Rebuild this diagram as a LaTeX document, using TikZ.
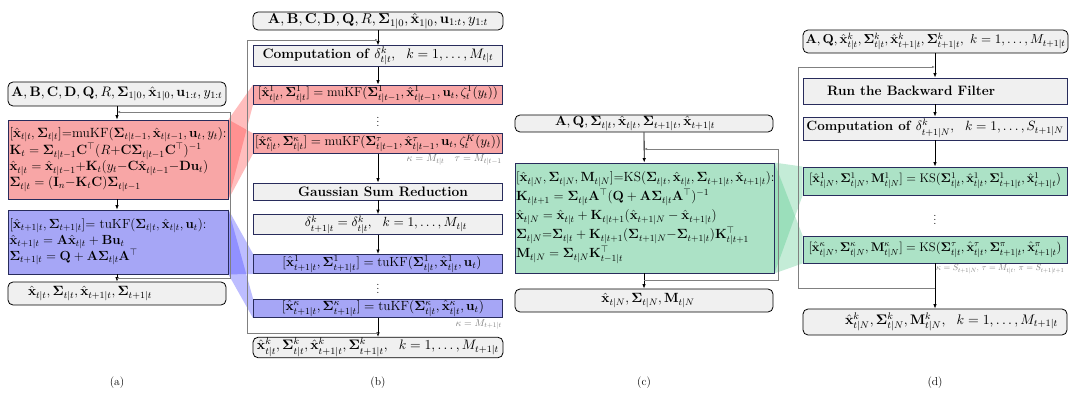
\RequirePackage{fix-cm}
\documentclass[tikz,border=0pt]{standalone}
\usepackage{graphicx}
\usepackage{amsmath,amssymb,bm}
\usetikzlibrary{arrows.meta,backgrounds}

\definecolor{boxline}{RGB}{40,44,92}
\definecolor{redbox}{RGB}{248,166,166}
\definecolor{bluebox}{RGB}{166,166,246}
\definecolor{greenbox}{RGB}{172,226,198}
\definecolor{greenfan}{RGB}{70,195,130}

\newcommand{\xh}{\hat{\mathbf{x}}}
\newcommand{\Sg}{\boldsymbol{\Sigma}}
\newcommand{\fitto}[2]{\resizebox{#1}{!}{#2}}

\begin{document}
\begin{tikzpicture}[
    x=1pt, y=-1pt,
    font=\fontsize{11.5}{13.5}\selectfont,
    fs/.style args = {#1/#2}{font=\fontsize{#1}{#2}\selectfont},
    io/.style   = {draw, rounded corners=5pt, fill=gray!12, line width=0.8pt, inner sep=1pt},
    blk/.style  = {draw=boxline, fill=gray!12, line width=0.8pt, inner sep=1pt},
    mu/.style   = {blk, fill=redbox},
    tu/.style   = {blk, fill=bluebox},
    ks/.style   = {blk, fill=greenbox},
    flow/.style = {-{Latex[length=4.5pt,width=3.5pt]}, line width=0.8pt},
    back/.style = {gray, line width=0.8pt, -{Latex[length=3pt,width=2.5pt]}},
    note/.style = {gray, inner sep=1pt},
    fan/.style  = {fill opacity=0.32},
  ]
  \useasboundingbox (0,0) rectangle (1079,398);

  % (a) Kalman filter
  \node[io, minimum width=218pt, minimum height=24pt] (ina) at (117,94)
    {\fitto{211pt}{$\mathbf{A},\mathbf{B},\mathbf{C},\mathbf{D},\mathbf{Q},R,\Sg_{1|0},\xh_{1|0},\mathbf{u}_{1:t},y_{1:t}$}};
  \node[mu, fs=13.4/16, minimum width=220pt, minimum height=79pt, text width=217pt, align=left] (mua) at (118,159.5)
    {$[\xh_{t|t},\Sg_{t|t}]$=muKF$(\Sg_{t|t-1},\xh_{t|t-1},\mathbf{u}_t,y_t)$:\\
     $\mathbf{K}_t=\Sg_{t|t-1}\mathbf{C}^{\top}(R{+}\mathbf{C}\Sg_{t|t-1}\mathbf{C}^{\top})^{-1}$\\
     $\xh_{t|t}=\xh_{t|t-1}{+}\mathbf{K}_t(y_t{-}\mathbf{C}\xh_{t|t-1}{-}\mathbf{D}\mathbf{u}_t)$\\
     $\Sg_{t|t}=(\mathbf{I}_n{-}\mathbf{K}_t\mathbf{C})\Sg_{t|t-1}$};
  \node[tu, fs=13.2/16, minimum width=220pt, minimum height=64pt, text width=217pt, align=left] (tua) at (118,242)
    {$[\xh_{t+1|t},\Sg_{t+1|t}]$= tuKF$(\Sg_{t|t},\xh_{t|t},\mathbf{u}_t)$:\\
     $\xh_{t+1|t}=\mathbf{A}\xh_{t|t}+\mathbf{B}\mathbf{u}_t$\\
     $\Sg_{t+1|t}=\mathbf{Q}+\mathbf{A}\Sg_{t|t}\mathbf{A}^{\top}$};
  \node[io, minimum width=218pt, minimum height=23pt] (outa) at (117,293.5)
    {\makebox[178pt][l]{\fitto{124pt}{$\xh_{t|t},\Sg_{t|t},\xh_{t+1|t},\Sg_{t+1|t}$}}};
  \draw[flow] (ina) -- (ina |- mua.north);
  \draw[flow] (mua.south -| ina) -- (tua.north -| ina);
  \draw[flow] (tua.south -| ina) -- (outa);
  \coordinate (la0) at (117,278);
  \coordinate (la1) at (117,112);
  \draw[back] (la0) -- ++(113,0) |- (la1);

  % (b) Gaussian sum filter
  \node[io, minimum width=250pt, minimum height=18pt] (inb) at (378,21)
    {\fitto{220pt}{$\mathbf{A},\mathbf{B},\mathbf{C},\mathbf{D},\mathbf{Q},R,\Sg_{1|0},\xh_{1|0},\mathbf{u}_{1:t},y_{1:t}$}};
  \node[blk, minimum width=249pt, minimum height=16pt] (compb) at (378,56)
    {\fitto{231pt}{\textbf{Computation of} $\delta^k_{t|t},~~k=1,\dots,M_{t|t}$}};
  \node[mu, minimum width=249pt, minimum height=19pt] (mub1) at (378,94.5)
    {\fitto{240pt}{$[\xh^1_{t|t},\Sg^1_{t|t}]=\text{muKF}(\Sg^1_{t|t-1},\xh^1_{t|t-1},\mathbf{u}_t,\zeta^1_t(y_t))$}};
  \node (vdb1) at (378,119) {$\vdots$};
  \node[mu, minimum width=249pt, minimum height=19pt] (mubk) at (378,143.5)
    {\fitto{246pt}{$[\xh^\kappa_{t|t},\Sg^\kappa_{t|t}]=\text{muKF}(\Sg^\tau_{t|t-1},\xh^\tau_{t|t-1},\mathbf{u}_t,\zeta^K_t(y_t))$}};
  \node[note, anchor=north east] (nb1) at (mubk.south east)
    {\fitto{95pt}{$\kappa=M_{t|t}\quad\tau=M_{t|t-1}$}};
  \node[blk, minimum width=249pt, minimum height=17pt] (gsr) at (378,191.5)
    {\makebox[180pt][r]{\fitto{170pt}{\textbf{Gaussian Sum Reduction}}}};
  \node[blk, minimum width=249pt, minimum height=17pt] (delb) at (378,224.5)
    {\makebox[178pt][r]{\fitto{162pt}{$\delta^k_{t+1|t}=\delta^k_{t|t},~~k=1,\dots,M_{t|t}$}}};
  \node[tu, minimum width=249pt, minimum height=18pt] (tub1) at (378,264)
    {\makebox[207pt][r]{\fitto{199pt}{$[\xh^1_{t+1|t},\Sg^1_{t+1|t}]=\text{tuKF}(\Sg^1_{t|t},\xh^1_{t|t},\mathbf{u}_t)$}}};
  \node (vdb2) at (378,286) {$\vdots$};
  \node[tu, minimum width=249pt, minimum height=17pt] (tubk) at (378,308.5)
    {\makebox[212pt][r]{\fitto{202pt}{$[\xh^\kappa_{t+1|t},\Sg^\kappa_{t+1|t}]=\text{tuKF}(\Sg^\kappa_{t|t},\xh^\kappa_{t|t},\mathbf{u}_t)$}}};
  \node[note, anchor=north east] (nb2) at (tubk.south east) {\fitto{46pt}{$\kappa=M_{t+1|t}$}};
  \node[io, minimum width=250pt, minimum height=19pt] (outb) at (378,347.5)
    {\fitto{242pt}{$\xh^k_{t|t},\Sg^k_{t|t},\xh^k_{t+1|t},\Sg^k_{t+1|t},~~k=1,\dots,M_{t+1|t}$}};
  \draw[flow] (inb) -- (compb);
  \draw[flow] (compb) -- (mub1);
  \draw[flow] (mubk) -- (gsr);
  \draw[flow] (gsr) -- (delb);
  \draw[flow] (delb) -- (tub1);
  \draw[flow] (tubk) -- (outb);
  \coordinate (lb0) at (378,333);
  \coordinate (lb1) at (378,40);
  \draw[back] (lb0) -- ++(-131,0) |- (lb1);

  % (c) Kalman smoother
  \node[io, minimum width=258pt, minimum height=17pt] (inc) at (644,123.5)
    {\makebox[178pt][l]{\fitto{160pt}{$\mathbf{A},\mathbf{Q},\Sg_{t|t},\xh_{t|t},\Sg_{t+1|t},\xh_{t+1|t}$}}};
  \node[ks, fs=13.3/19, minimum width=259pt, minimum height=110pt, text width=257pt, align=left] (ksc) at (644.5,218)
    {$[\xh_{t|N},\Sg_{t|N},\mathbf{M}_{t|N}]$=KS$(\Sg_{t|t},\xh_{t|t},\Sg_{t+1|t},\xh_{t+1|t})$:\\
     $\mathbf{K}_{t|t+1}=\Sg_{t|t}\mathbf{A}^{\top}(\mathbf{Q}+\mathbf{A}\Sg_{t|t}\mathbf{A}^{\top})^{-1}$\\
     $\xh_{t|N}=\xh_{t|t}+\mathbf{K}_{t|t+1}(\xh_{t+1|N}-\xh_{t+1|t})$\\
     $\Sg_{t|N}{=}\Sg_{t|t}+\mathbf{K}_{t|t+1}(\Sg_{t+1|N}{-}\Sg_{t+1|t})\mathbf{K}^{\top}_{t|t+1}$\\
     $\mathbf{M}_{t|N}=\Sg_{t|N}\mathbf{K}^{\top}_{t-1|t}$};
  \node[io, minimum width=258pt, minimum height=23pt] (outc) at (644,300.5)
    {\makebox[101pt][r]{\fitto{93pt}{$\xh_{t|N},\Sg_{t|N},\mathbf{M}_{t|N}$}}};
  \draw[flow] (inc) -- (ksc);
  \draw[flow] (ksc.south -| inc) -- (outc);
  \coordinate (lc0) at (644,280);
  \coordinate (lc1) at (644,149);
  \draw[back] (lc0) -- ++(134,0) |- (lc1);

  % (d) Gaussian sum smoother
  \node[io, minimum width=265pt, minimum height=23pt] (ind) at (935.5,41.5)
    {\fitto{260pt}{$\mathbf{A},\mathbf{Q},\xh^k_{t|t},\Sg^k_{t|t},\xh^k_{t+1|t},\Sg^k_{t+1|t},~k=1,\dots,M_{t+1|t}$}};
  \node[blk, minimum width=264pt, minimum height=26pt] (bwd) at (935,91)
    {\makebox[216pt][l]{\fitto{168pt}{\textbf{Run the Backward Filter}}}};
  \node[blk, minimum width=264pt, minimum height=23pt] (compd) at (935,128.5)
    {\fitto{257pt}{\textbf{Computation of} $\delta^k_{t+1|N},~~k=1,\dots,S_{t+1|N}$}};
  \node[ks, minimum width=264pt, minimum height=28pt] (ksd1) at (935,181)
    {\fitto{252pt}{$[\xh^1_{t|N},\Sg^1_{t|N},\mathbf{M}^1_{t|N}]=\text{KS}(\Sg^1_{t|t},\xh^1_{t|t},\Sg^1_{t+1|t},\xh^1_{t+1|t})$}};
  \node (vdd) at (935,217) {$\vdots$};
  \node[ks, minimum width=264pt, minimum height=27pt] (ksdk) at (935,249.5)
    {\fitto{253pt}{$[\xh^\kappa_{t|N},\Sg^\kappa_{t|N},\mathbf{M}^\kappa_{t|N}]=\text{KS}(\Sg^\tau_{t|t},\xh^\tau_{t|t},\Sg^\pi_{t+1|t},\xh^\pi_{t+1|t})$}};
  \node[note, anchor=north west] (nd) at (ksdk.south)
    {\fitto{128pt}{$\kappa=S_{t+1|N}$, $\tau=M_{t|t}$, $\pi=S_{t+1|t+1}$}};
  \node[io, minimum width=264pt, minimum height=26pt] (outd) at (935,322)
    {\makebox[246pt][r]{\fitto{213pt}{$\xh^k_{t|N},\Sg^k_{t|N},\mathbf{M}^k_{t|N},~~k=1,\dots,M_{t+1|t}$}}};
  \draw[flow] (ind.south -| bwd) -- (bwd);
  \draw[flow] (bwd) -- (compd);
  \draw[flow] (compd) -- (ksd1);
  \draw[flow] (ksdk) -- (outd);
  \coordinate (ld0) at (935,288);
  \coordinate (ld1) at (935,67);
  \draw[back] (ld0) -- ++(-137,0) |- (ld1);

  % fans linking the single blocks to their banks
  \begin{scope}[on background layer]
    \foreach \a/\b/\c in {mua/mub1/red!80, mua/mubk/red!80, tua/tub1/blue!80, tua/tubk/blue!80,
                          ksc/ksd1/greenfan, ksc/ksdk/greenfan} {
      \fill[fan, \c] (\a.north east) -- (\b.north west) -- (\b.south west) -- (\a.south east) -- cycle;
    }
  \end{scope}

  % captions
  \foreach \x/\t in {117/a, 378/b, 644/c, 935/d}
    \node (cap\t) at (\x,383) {(\t)};
\end{tikzpicture}
\end{document}
